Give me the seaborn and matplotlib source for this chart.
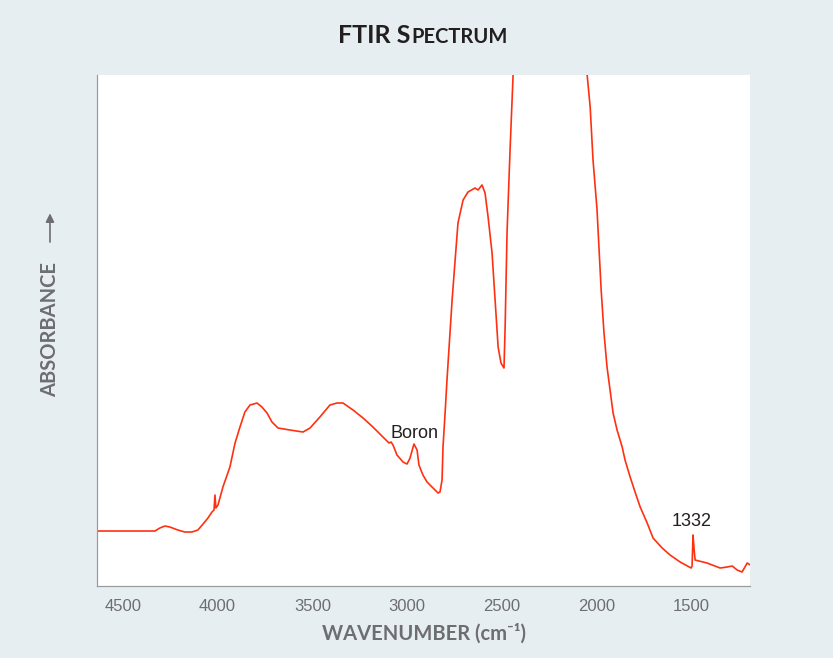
import matplotlib
matplotlib.use("Agg")
import matplotlib.pyplot as plt
import seaborn as sns
import pandas as pd
from matplotlib.patches import FancyArrowPatch

# ---- data ----
wavenumber = [4637, 4542, 4437, 4331, 4305, 4278, 4252, 4210, 4173, 4136, 4104, 4077,
              4051, 4030, 4019, 4014, 4009, 3998, 3972, 3935, 3908, 3882, 3856, 3829,
              3792, 3766, 3739, 3713, 3681, 3618, 3549, 3512, 3460, 3407, 3370, 3338,
              3285, 3232, 3180, 3127, 3095, 3084, 3074, 3053, 3021, 3000, 2984, 2968,
              2963, 2947, 2937, 2916, 2894, 2868, 2836, 2826, 2815, 2810, 2799, 2789,
              2762, 2746, 2731, 2704, 2678, 2641, 2625, 2604, 2588, 2572, 2551, 2535,
              2519, 2504, 2488, 2482, 2472, 2456, 2440, 2424, 2300, 2150, 2065, 2049,
              2033, 2018, 1997, 1975, 1960, 1944, 1928, 1912, 1891, 1864, 1849, 1822,
              1796, 1769, 1732, 1701, 1653, 1611, 1558, 1500, 1495, 1490, 1484, 1479,
              1416, 1347, 1310, 1283, 1257, 1231, 1204, 1188]
absorbance = [0.58, 0.58, 0.58, 0.58, 0.61, 0.63, 0.62, 0.59, 0.57, 0.57, 0.59, 0.65,
              0.71, 0.77, 0.79, 0.94, 0.81, 0.84, 1.02, 1.22, 1.46, 1.62, 1.77, 1.84,
              1.86, 1.82, 1.76, 1.67, 1.61, 1.59, 1.57, 1.61, 1.72, 1.84, 1.86, 1.86,
              1.79, 1.71, 1.62, 1.52, 1.46, 1.47, 1.44, 1.34, 1.27, 1.25, 1.31, 1.42,
              1.45, 1.39, 1.24, 1.14, 1.07, 1.02, 0.96, 0.97, 1.09, 1.42, 1.76, 2.09,
              2.89, 3.29, 3.66, 3.89, 3.97, 4.01, 3.99, 4.04, 3.96, 3.72, 3.36, 2.89,
              2.42, 2.26, 2.21, 2.62, 3.56, 4.39, 5.14, 5.89, 6.60, 6.60, 5.89, 5.14,
              4.82, 4.29, 3.80, 2.99, 2.56, 2.22, 1.99, 1.76, 1.59, 1.42, 1.29, 1.12,
              0.97, 0.82, 0.66, 0.51, 0.41, 0.34, 0.27, 0.21, 0.23, 0.54, 0.39, 0.29,
              0.26, 0.21, 0.22, 0.23, 0.19, 0.17, 0.26, 0.24]
x_ticks = [4500, 4000, 3500, 3000, 2500, 2000, 1500]
annotations = [("Boron", 2958, 1.56), ("1332", 1500, 0.68)]

df = pd.DataFrame({"wavenumber": wavenumber, "absorbance": absorbance})

# ---- style ----
sns.set_style("white")
plt.rcParams["font.family"] = ["Liberation Sans", "DejaVu Sans"]

BG = "#e7eef2"
GRAY = "#6d6e71"
RED = "#ff3010"

fig = plt.figure(figsize=(8.33, 6.58), dpi=100, facecolor=BG)
ax = fig.add_axes([0.1164, 0.1094, 0.7840, 0.7766])
ax.set_facecolor("white")

sns.lineplot(data=df, x="wavenumber", y="absorbance", ax=ax, sort=False,
             estimator=None, color=RED, linewidth=1.2)

ax.set_xlim(4637, 1189)
ax.set_ylim(0.03, 5.14)
ax.set_xticks(x_ticks)
ax.set_xticklabels([str(t) for t in x_ticks])
ax.set_yticks([])
ax.set_xlabel("")
ax.set_ylabel("")

for s in ["top", "right"]:
    ax.spines[s].set_visible(False)
for s in ["left", "bottom"]:
    ax.spines[s].set_color("#9a9b9d")
    ax.spines[s].set_linewidth(0.9)

ax.tick_params(axis="x", direction="out", length=5.5, width=1, color="#58595b",
               labelcolor=GRAY, labelsize=12, pad=4)
for lab in ax.get_xticklabels():
    lab.set_family(["Liberation Sans Narrow", "Liberation Sans", "DejaVu Sans"])

for txt, xv, yv in annotations:
    ax.text(xv, yv, txt, ha="center", va="center", fontsize=13, color="#231f20")

# axis labels
lab_font = ["Lato", "DejaVu Sans"]
fig.text(0.509, 0.0365, "WAVENUMBER (cm\u207b\u00b9)", ha="center", va="center",
         fontsize=14.5, fontweight="bold", color=GRAY, family=lab_font)
fig.text(0.060, 0.4985, "ABSORBANCE", ha="center", va="center", rotation=90,
         fontsize=14.5, fontweight="bold", color=GRAY, family=lab_font)
arrow = FancyArrowPatch((0.060, 0.628), (0.060, 0.680), transform=fig.transFigure,
                        arrowstyle="-|>,head_length=5,head_width=2.5",
                        color=GRAY, linewidth=1.2)
fig.add_artist(arrow)

# title with small caps
renderer = fig.canvas.get_renderer()
t1 = fig.text(0, 0.934, "FTIR S", ha="left", va="baseline", fontsize=18,
              fontweight="bold", color="#231f20", family=lab_font)
t2 = fig.text(0, 0.934, "PECTRUM", ha="left", va="baseline", fontsize=14.5,
              fontweight="bold", color="#231f20", family=lab_font)
w1 = t1.get_window_extent(renderer).width
w2 = t2.get_window_extent(renderer).width
W = fig.bbox.width
start = 0.507 * W - (w1 + w2) / 2
t1.set_x(start / W)
t2.set_x((start + w1 + 1) / W)

fig.savefig("out.png", dpi=100, facecolor=BG)
